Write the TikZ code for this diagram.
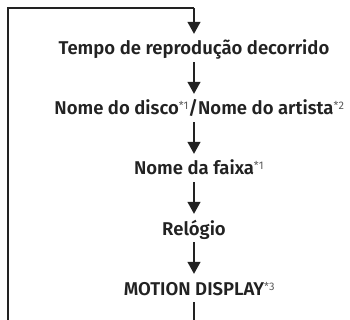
\documentclass[tikz,border=0pt]{standalone}
\usepackage{fontspec}
\setsansfont{Fira Sans}[BoldFont={Fira Sans SemiBold}]
\usetikzlibrary{arrows.meta}

\definecolor{texto}{HTML}{222222}
\newcommand{\nota}[1]{\raisebox{5pt}{\fontsize{11}{11}\selectfont\mdseries\color{texto!75}*#1}}

\tikzset{
  passo/.style={anchor=base, font=\sffamily\bfseries\fontsize{18.5}{20}\selectfont,
    text=texto, text height=12pt, text depth=4pt, inner xsep=0pt, inner ysep=3pt},
  seta/.style={line width=1.3pt, draw=texto, -{Triangle[width=13pt,length=12pt]}, shorten >=6pt},
  linha/.style={line width=1.3pt, draw=texto}
}

\begin{document}
\begin{tikzpicture}[x=1pt,y=-1pt]
\useasboundingbox (0,0) rectangle (350,320);

% Modes
\node[passo] (tempo) at (194,55)
{Tempo de reprodução decorrido};

\node[passo] (disco) at (194,115)
{Nome do disco\nota{1}/Nome do artista\rlap{\nota{2}}};

\node[passo] (faixa) at (194,175)
{Nome da faixa\rlap{\nota{1}}};

\node[passo] (relogio) at (194,235)
{Relógio};

\node[passo] (motion) at (194,295)
{MOTION DISPLAY\rlap{\nota{3}}};

% Loop back
\coordinate (topR) at (194,8);
\coordinate (topL) at (8,8);
\coordinate (botL) at (8,320);
\coordinate (botR) at (194,320);

\draw[linha] (botL) -- (topL) -- (topR);
\draw[seta] (topR) -- (tempo.north);

% Steps
\draw[seta] (tempo.south) -- (disco.north);
\draw[seta] (disco.south) -- (faixa.north);
\draw[seta] (faixa.south) -- (relogio.north);
\draw[seta] (relogio.south) -- (motion.north);

\draw[linha] (motion.south) -- (botR);
\end{tikzpicture}
\end{document}
